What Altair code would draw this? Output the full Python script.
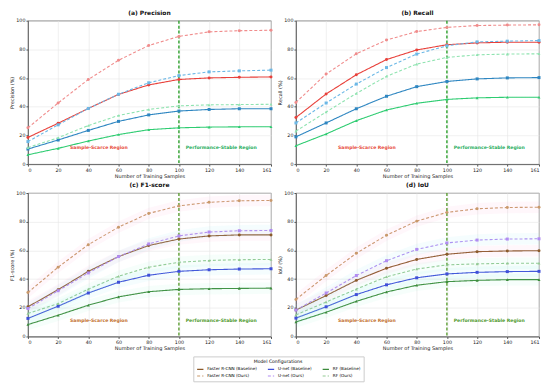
import altair as alt
import pandas as pd

x_samples = [0, 20, 40, 60, 80, 100, 120, 140, 161]
y_ticks = [0, 20, 40, 60, 80, 100]
threshold = 100

models = ["Faster R-CNN", "U-net", "RF"]
variants = ["Baseline", "Ours"]

# ---- values ----
precision = {
    ("Faster R-CNN", "Baseline"): [18.6, 28.5, 38.8, 48.6, 55.2, 59.0, 60.1, 60.5, 60.8],
    ("Faster R-CNN", "Ours"):     [25.3, 42.6, 59.0, 72.4, 82.7, 89.0, 92.2, 93.0, 93.3],
    ("U-net", "Baseline"):        [10.5, 16.8, 23.5, 29.8, 34.3, 37.0, 38.1, 38.6, 38.6],
    ("U-net", "Ours"):            [15.7, 27.4, 38.8, 48.7, 56.7, 61.7, 64.3, 65.0, 65.5],
    ("RF", "Baseline"):           [6.5, 11.0, 16.1, 20.6, 24.0, 25.3, 25.8, 26.0, 26.0],
    ("RF", "Ours"):               [11.5, 18.4, 26.9, 33.9, 38.1, 40.6, 41.3, 41.5, 41.7],
}
recall = {
    ("Faster R-CNN", "Baseline"): [32.5, 48.9, 62.3, 72.9, 79.6, 83.2, 84.5, 85.0, 85.0],
    ("Faster R-CNN", "Ours"):     [43.0, 62.8, 76.9, 86.5, 92.4, 95.3, 96.6, 96.9, 97.1],
    ("U-net", "Baseline"):        [19.0, 28.7, 38.6, 47.3, 54.0, 57.6, 59.4, 60.1, 60.3],
    ("U-net", "Ours"):            [28.7, 42.6, 55.8, 67.3, 76.7, 82.5, 85.2, 85.7, 86.1],
    ("RF", "Baseline"):           [12.8, 21.0, 30.3, 37.7, 42.4, 45.1, 46.2, 46.6, 46.6],
    ("RF", "Ours"):               [23.0, 36.3, 49.3, 61.2, 69.7, 74.4, 76.2, 76.7, 76.9],
}
f1score = {
    ("Faster R-CNN", "Baseline"): [20.7, 32.6, 45.4, 55.7, 63.4, 67.9, 70.1, 70.8, 70.8],
    ("Faster R-CNN", "Ours"):     [30.6, 48.3, 64.0, 76.2, 85.8, 91.0, 93.5, 94.6, 94.8],
    ("U-net", "Baseline"):        [12.6, 21.1, 30.3, 37.8, 42.7, 45.4, 46.5, 47.0, 47.2],
    ("U-net", "Ours"):            [19.5, 31.9, 44.3, 55.7, 64.5, 70.1, 72.8, 73.7, 73.9],
    ("RF", "Baseline"):           [8.3, 14.8, 21.8, 27.6, 31.2, 32.8, 33.3, 33.5, 33.7],
    ("RF", "Ours"):               [16.0, 22.9, 33.0, 42.0, 48.3, 51.7, 53.0, 53.5, 53.7],
}
iou = {
    ("Faster R-CNN", "Baseline"): [18.4, 28.5, 39.1, 47.6, 53.7, 57.3, 59.1, 59.6, 59.8],
    ("Faster R-CNN", "Ours"):     [25.8, 42.5, 58.0, 70.6, 80.4, 86.5, 89.0, 89.9, 90.1],
    ("U-net", "Baseline"):        [12.8, 20.7, 29.2, 36.0, 40.9, 43.6, 44.7, 45.2, 45.4],
    ("U-net", "Ours"):            [18.4, 30.3, 42.5, 52.8, 60.7, 65.2, 67.2, 67.9, 68.1],
    ("RF", "Baseline"):           [10.1, 16.9, 24.5, 31.0, 35.7, 38.2, 39.1, 39.6, 39.6],
    ("RF", "Ours"):               [15.0, 24.0, 33.0, 41.6, 47.0, 49.9, 50.6, 51.0, 51.0],
}
band_halfwidth = 4.0  # visual half-width of the shaded bands in (c) and (d)

region_labels = ["Sample-Scarce Region", "Performance-Stable Region"]
region_x = [47, 128]
region_y = [11, 11]

# ---- styles ----
top_colors = {
    ("Faster R-CNN", "Baseline"): "#e8403a", ("Faster R-CNN", "Ours"): "#f08c8c",
    ("U-net", "Baseline"): "#2e86c1", ("U-net", "Ours"): "#6cb8e6",
    ("RF", "Baseline"): "#2ecc71", ("RF", "Ours"): "#8fe3b0",
}
bottom_colors = {
    ("Faster R-CNN", "Baseline"): "#8b5a2b", ("Faster R-CNN", "Ours"): "#c9996b",
    ("U-net", "Baseline"): "#3f4fd8", ("U-net", "Ours"): "#b18cf2",
    ("RF", "Baseline"): "#3b8b3b", ("RF", "Ours"): "#93c993",
}
band_colors = {"Faster R-CNN": "#ff9fc8", "U-net": "#7fe8ee", "RF": "#8ff0d0"}
shapes = {"Faster R-CNN": "circle", "U-net": "square", "RF": "triangle-up"}
FONT = "DejaVu Sans"
PW, PH = 244, 144


def label(m, v):
    return f"{m} ({v})"


legend_keys = [label(m, "Baseline") for m in models] + [label(m, "Ours") for m in models]
top_keys = ["top|" + k for k in legend_keys]
all_keys = legend_keys + top_keys
key_colors, key_dashes = [], []
for palette in (bottom_colors, top_colors):
    for k in legend_keys:
        m, v = k.rsplit(" (", 1)
        v = v.rstrip(")")
        key_colors.append(palette[(m, v)])
        key_dashes.append([1, 0] if v == "Baseline" else [3, 2])


def build_df(metric, top):
    rows = []
    for (m, v), vals in metric.items():
        key = label(m, v)
        if top:
            key = "top|" + key
        for xv, yv in zip(x_samples, vals):
            rows.append({"x": xv, "y": yv, "key": key, "model": m,
                         "lo": yv - band_halfwidth, "hi": yv + band_halfwidth})
    return pd.DataFrame(rows)


legend = alt.Legend(
    title="Model Configurations", values=legend_keys, orient="none",
    legendX=166, legendY=337, columns=3, direction="horizontal", symbolType="stroke",
    symbolStrokeWidth=1.1, symbolSize=40, labelFontSize=4.2, titleFontSize=4.6,
    titleFontWeight="normal", titleAnchor="middle", labelFont=FONT, titleFont=FONT,
    strokeColor="#cccccc", padding=3, columnPadding=8, rowPadding=0,
    labelLimit=200, titlePadding=1, labelOffset=3,
)

color_enc = alt.Color("key:N", scale=alt.Scale(domain=all_keys, range=key_colors), legend=legend)
dash_enc = alt.StrokeDash("key:N", scale=alt.Scale(domain=all_keys, range=key_dashes), legend=legend)


def make_panel(metric, title, ytitle, top):
    df = build_df(metric, top)
    xaxis = alt.Axis(values=x_samples, title="Number of Training Samples", labelOverlap=False)
    yaxis = alt.Axis(values=y_ticks, title=ytitle, labelOverlap=False)
    xscale = alt.Scale(domain=[0, 161], nice=False)
    yscale = alt.Scale(domain=[0, 100], nice=False)
    xenc = alt.X("x:Q", scale=xscale, axis=xaxis)
    yenc = alt.Y("y:Q", scale=yscale, axis=yaxis)
    base = alt.Chart(df)
    layers = []
    layers.append(base.mark_line(strokeWidth=1.1).encode(
        x=xenc, y=yenc, color=color_enc, strokeDash=dash_enc, detail="key:N"))
    if not top:
        layers.append(base.mark_area(opacity=0.08).encode(
            x=xenc, y=alt.Y("lo:Q", scale=yscale, axis=yaxis), y2="hi:Q",
            fill=alt.Fill("model:N", scale=alt.Scale(domain=models,
                          range=[band_colors[m] for m in models]), legend=None),
            detail="key:N"))
    rule_color = "#2ca02c" if top else "#5d9e34"
    layers.append(alt.Chart(pd.DataFrame({"t": [threshold]})).mark_rule(
        strokeDash=[3, 2], strokeWidth=1.4, color=rule_color).encode(
        x=alt.X("t:Q", scale=xscale, axis=xaxis)))
    layers.append(base.mark_point(filled=True, size=9, opacity=1).encode(
        x=xenc, y=yenc, color=color_enc,
        shape=alt.Shape("model:N", scale=alt.Scale(domain=models,
                        range=[shapes[m] for m in models]), legend=None)))
    txt_colors = ["#e74c3c", "#27ae60"] if top else ["#c2702e", "#4f9a2e"]
    for lab, rx, ry, c in zip(region_labels, region_x, region_y, txt_colors):
        tdf = pd.DataFrame({"rx": [rx], "ry": [ry], "label": [lab]})
        layers.append(alt.Chart(tdf).mark_text(
            fontSize=4.6, fontWeight="bold", color=c, font=FONT).encode(
            x=alt.X("rx:Q", scale=xscale, axis=xaxis),
            y=alt.Y("ry:Q", scale=yscale, axis=yaxis), text="label:N"))
    return alt.layer(*layers).properties(
        width=PW, height=PH,
        title=alt.TitleParams(title, fontSize=6, fontWeight="bold", offset=2))


pa = make_panel(precision, "(a) Precision", "Precision (%)", True)
pb = make_panel(recall, "(b) Recall", "Recall (%)", True)
pc = make_panel(f1score, "(c) F1-score", "F1-score (%)", False)
pd_ = make_panel(iou, "(d) IoU", "IoU (%)", False)

chart = alt.vconcat(
    alt.hconcat(pa, pb, spacing=2),
    alt.hconcat(pc, pd_, spacing=2),
    spacing=2,
).properties(padding={"left": 0, "top": 0, "right": 0, "bottom": 0}).configure_view(
    stroke="#555555", strokeWidth=0.8
).configure_axis(
    grid=True, gridColor="#e6e6e6", gridWidth=0.6, labelOverlap=False,
    labelFontSize=4.8, titleFontSize=5, labelFont=FONT, titleFont=FONT,
    titleFontWeight="normal", labelColor="#222222", titleColor="#222222",
    tickSize=2, tickColor="#555555", domainColor="#555555", domainWidth=0.8,
    labelPadding=1, titlePadding=1.5,
).configure_title(font=FONT, color="#111111")

chart.save("out.html", embed_options={"renderer": "svg", "actions": False})
